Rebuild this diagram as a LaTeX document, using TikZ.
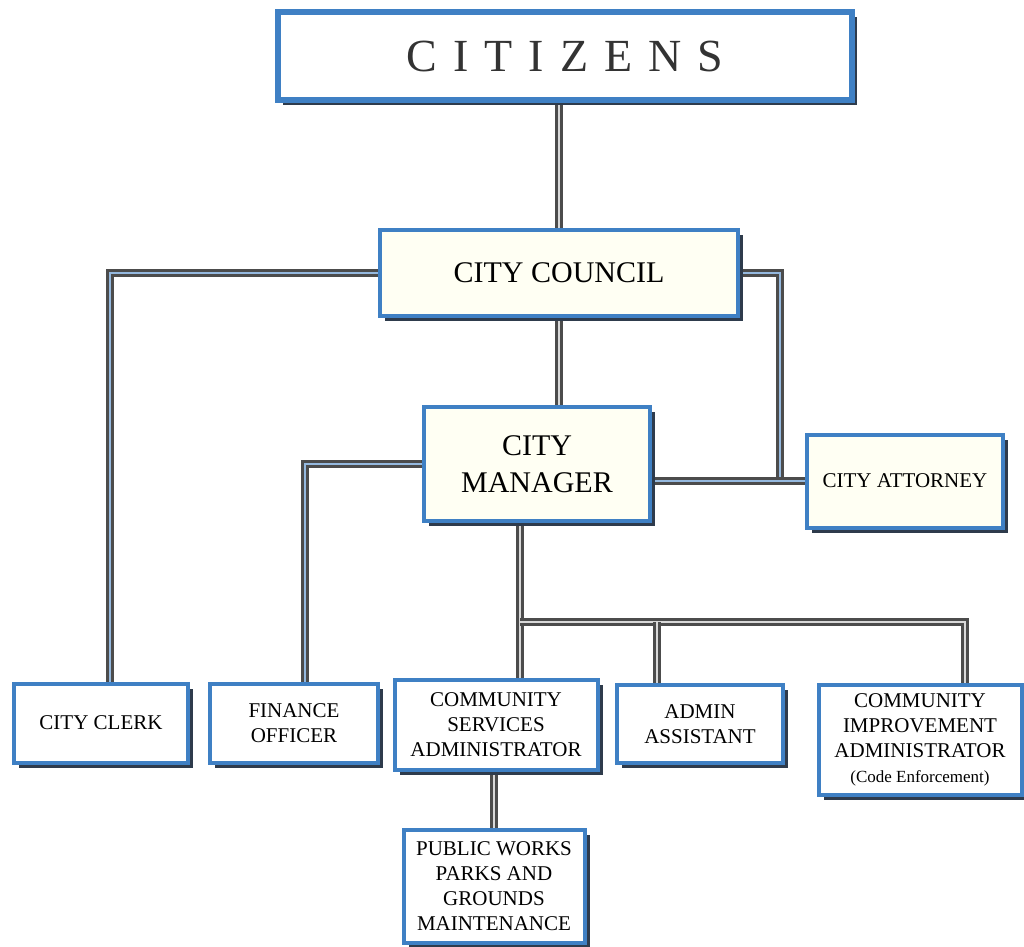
\documentclass[tikz,border=0pt]{standalone}
\usepackage{fontspec}
\setmainfont{Liberation Serif}
\usetikzlibrary{positioning,shadows,backgrounds}

\definecolor{boxblue}{HTML}{3F80C4}
\definecolor{shade}{HTML}{2E3B4C}
\definecolor{cream}{HTML}{FFFFF3}

\tikzset{
  office/.style={draw=boxblue, line width=2pt, fill=white, align=center, inner sep=2pt,
    drop shadow={shadow xshift=2.5pt, shadow yshift=-2.5pt, fill=shade, opacity=1},
    font=\fontsize{10.5}{12.5}\selectfont},
  head/.style={office, fill=cream, font=\fontsize{15}{18.5}\selectfont},
  link/.style={draw=black!70, line width=1.4pt, double=black!15, double distance=1.3pt},
  bluelink/.style={link, double=boxblue!55},
}

\begin{document}
\begin{tikzpicture}[x=0.5pt,y=-0.5pt]
\useasboundingbox (0,0) rectangle (1024,947);

\node[office, line width=3pt, minimum width=287pt, minimum height=44pt,
  font=\fontsize{23}{26}\selectfont, text=black!80] (citizens) at (565,56)
  {C\hspace{8pt}I\hspace{8pt}T\hspace{8pt}I\hspace{8pt}Z\hspace{8pt}E\hspace{8pt}N\hspace{8pt}S};
\node[head, minimum width=179pt, minimum height=43pt] (council) at (559,273) {CITY COUNCIL};
\node[head, minimum width=113pt, minimum height=57pt] (manager) at (537,464) {CITY\\MANAGER};
\node[head, minimum width=98pt, minimum height=46.5pt, font=\fontsize{10.5}{12.5}\selectfont]
  (attorney) at (905,481) {CITY ATTORNEY};

\node[office, minimum width=87pt, minimum height=39.5pt] (clerk) at (101,723) {CITY CLERK};
\node[office, minimum width=84pt, minimum height=39.5pt] (finance) at (294,723) {FINANCE\\OFFICER};
\node[office, minimum width=101.5pt, minimum height=45pt] (csa) at (496,725)
  {COMMUNITY\\SERVICES\\ADMINISTRATOR};
\node[office, minimum width=83pt, minimum height=39pt] (admin) at (700,724) {ADMIN\\ASSISTANT};
\node[office, minimum width=101.5pt, minimum height=55pt] (cia) at (920,740)
  {COMMUNITY\\IMPROVEMENT\\ADMINISTRATOR\\{\fontsize{8.5}{12.5}\selectfont (Code Enforcement)}};
\node[office, minimum width=90.5pt, minimum height=56.5pt] (works) at (494,886)
  {PUBLIC WORKS\\PARKS AND\\GROUNDS\\MAINTENANCE};

\coordinate (xjoin) at (780,481);
\coordinate (split) at (520,622);
\coordinate (adrop) at (657,622);
\coordinate (cdrop) at (965,622);

\begin{scope}[on background layer]
\draw[link] (council.north |- citizens.south) -- (council.north);
\draw[link] (council.south) -- (council.south |- manager.north);
\draw[bluelink] (council.west) -| ([xshift=4.5pt]clerk.north);
\draw[bluelink] (council.east) -| (xjoin);
\draw[bluelink] (attorney.west -| manager.east) -- (attorney.west);
\draw[bluelink] (manager.west) -| ([xshift=5.5pt]finance.north);
\draw[link] (manager.south -| split) -- (csa.north -| split);
\draw[link] (split) -- (cdrop) -- (cdrop |- cia.north);
\draw[link] (adrop) -- (adrop |- admin.north);
\draw[link] (works.north |- csa.south) -- (works.north);
\end{scope}
\end{tikzpicture}
\end{document}
